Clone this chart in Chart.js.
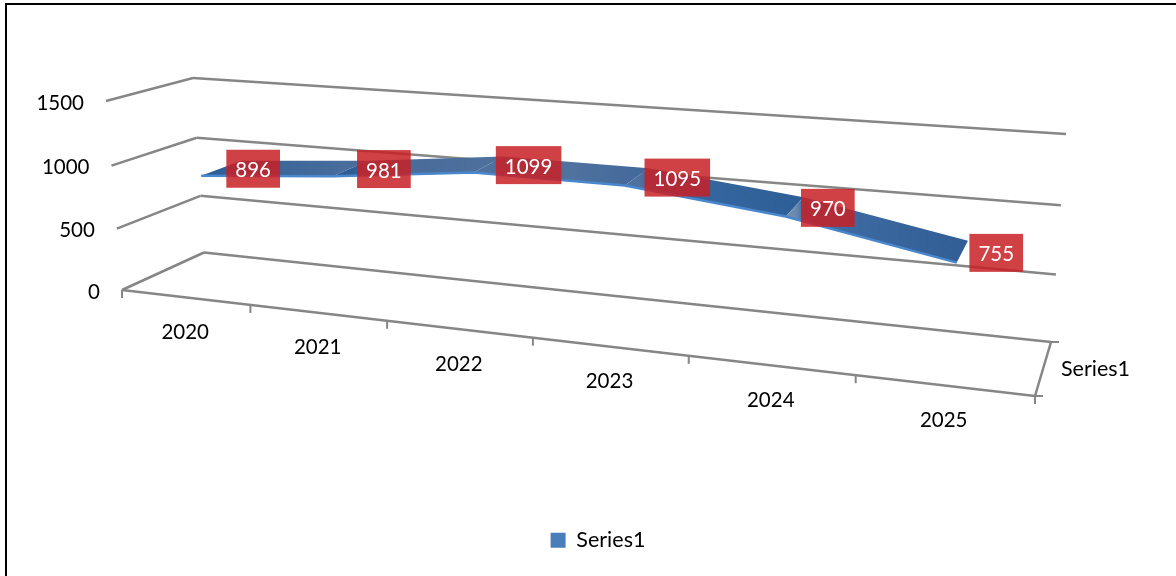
<!DOCTYPE html>
<html>
<head>
<meta charset="utf-8">
<title>Series1</title>
<script src="https://cdn.jsdelivr.net/npm/chart.js@4"></script>
<style>
  html, body { margin: 0; padding: 0; background: #fff; overflow: hidden; }
  #frame { position: absolute; left: 5px; top: 3px; right: 0; bottom: 0; border-left: 2px solid #000; border-top: 2px solid #000; }
  #grafico { position: absolute; left: 0; top: 0; }
</style>
</head>
<body>
<div id="frame"></div>
<canvas id="grafico" width="1176" height="576"></canvas>
<script>
var categorias = ['2020', '2021', '2022', '2023', '2024', '2025'];
var valores = [896, 981, 1099, 1095, 970, 755];
var ticksY = [0, 500, 1000, 1500];
var nomeSerie = 'Series1';

// how the flat plot area is folded into the 3D box of the picture
var cantos = {
    frenteBaixoEsq: [122, 290], fundoBaixoEsq: [204, 252.5], frenteBaixoDir: [1035, 396], fundoBaixoDir: [1051, 342],
    frenteAltoEsq: [106, 101], fundoAltoEsq: [193, 78], frenteAltoDir: [1051, 170], fundoAltoDir: [1066, 134]
};
var perspectiva = 1.222, perspectivaV = 1.04;
var faixaFrente = 0.30, faixaFundo = 0.80;
var deslocaRotulo = [36, 37, 43, 43, 35, 35];

// shade of each ribbon piece: [position along the piece, colour]
var tonsFaixa = [
    [[0, '#2c5c96'], [0.45, '#3a6498'], [1, '#4a6e9c']],
    [[0, '#2b5b95'], [0.14, '#2f5e96'], [0.2, '#47699a'], [1, '#4d709c']],
    [[0, '#4d709c'], [0.6, '#4f729e'], [1, '#44699b']],
    [[0, '#4f729e'], [0.1, '#4c70a0'], [0.16, '#3a6aa3'], [1, '#2f5f97']],
    [[0, '#7290b2'], [0.06, '#6a89ad'], [0.1, '#406ea5'], [1, '#315f95']]
];

var corLinha = '#868686';
var fonte = '20.5px Lato';
var fonteSerie = '21.5px Lato';

function mistura(a, b, k) {
    return [a[0] + (b[0] - a[0]) * k, a[1] + (b[1] - a[1]) * k];
}

// t: along the categories, v: along the values, w: depth, all 0..1
function projeta(t, v, w) {
    var tp = t / (t + perspectiva * (1 - t));
    var vp = v / (v + perspectivaV * (1 - v));
    var c = cantos;
    var baixo = mistura(mistura(c.frenteBaixoEsq, c.frenteBaixoDir, tp), mistura(c.fundoBaixoEsq, c.fundoBaixoDir, tp), w);
    var alto = mistura(mistura(c.frenteAltoEsq, c.frenteAltoDir, tp), mistura(c.fundoAltoEsq, c.fundoAltoDir, tp), w);
    return mistura(baixo, alto, vp);
}

function fracaoX(chart, indice) {
    var s = chart.scales.x;
    return (s.getPixelForValue(indice) - s.left) / s.width;
}
function fracaoY(chart, valor) {
    var s = chart.scales.y;
    return (s.bottom - s.getPixelForValue(valor)) / s.height;
}

function linha(ctx, a, b) {
    ctx.beginPath();
    ctx.moveTo(a[0], a[1]);
    ctx.lineTo(b[0], b[1]);
    ctx.stroke();
}

var caixa3d = {
    id: 'caixa3d',
    // fold the points that the line controller placed
    afterDatasetsUpdate: function (chart) {
        chart.data.datasets.forEach(function (ds, i) {
            chart.getDatasetMeta(i).data.forEach(function (pt, j) {
                var p = projeta(fracaoX(chart, j), fracaoY(chart, ds.data[j]), ds.profundidade);
                pt.x = p[0];
                pt.y = p[1];
            });
        });
    },
    beforeDatasetsDraw: function (chart) {
        var ctx = chart.ctx;
        ctx.save();
        ctx.strokeStyle = corLinha;
        ctx.lineWidth = 2.5;
        ctx.lineCap = 'butt';

        // walls
        ticksY.forEach(function (valor) {
            var v = fracaoY(chart, valor);
            linha(ctx, projeta(0, v, 0), projeta(0, v, 1));
            linha(ctx, projeta(0, v, 1), projeta(1, v, 1));
        });

        // floor front and right edges, with their ticks
        linha(ctx, projeta(0, 0, 0), projeta(1, 0, 0));
        linha(ctx, projeta(1, 0, 0), projeta(1, 0, 1));
        ctx.lineWidth = 2;
        for (var i = 0; i <= categorias.length; i++) {
            var p = projeta(fracaoX(chart, i - 0.5), 0, 0);
            linha(ctx, p, [p[0], p[1] + 8]);
        }
        [0, 1].forEach(function (w) {
            var q = projeta(1, 0, w);
            linha(ctx, q, [q[0] + 8, q[1]]);
        });

        // ribbon between the two edge lines
        var frente = chart.getDatasetMeta(0).data;
        var fundo = chart.getDatasetMeta(1).data;
        for (var k = 0; k < frente.length - 1; k++) {
            var g = ctx.createLinearGradient(frente[k].x, 0, frente[k + 1].x + (fundo[k + 1].x - frente[k + 1].x) / 2, 0);
            tonsFaixa[k].forEach(function (s) { g.addColorStop(s[0], s[1]); });
            ctx.fillStyle = g;
            ctx.beginPath();
            ctx.moveTo(frente[k].x, frente[k].y);
            ctx.lineTo(fundo[k].x, fundo[k].y);
            ctx.lineTo(fundo[k + 1].x, fundo[k + 1].y);
            ctx.lineTo(frente[k + 1].x, frente[k + 1].y);
            ctx.closePath();
            ctx.fill();
        }
        ctx.restore();
    },
    afterDatasetsDraw: function (chart) {
        var ctx = chart.ctx;
        ctx.save();
        ctx.font = fonte;
        ctx.textBaseline = 'middle';
        ctx.fillStyle = '#000';

        // value axis
        ctx.textAlign = 'right';
        ticksY.forEach(function (valor) {
            var p = projeta(0, fracaoY(chart, valor), 0);
            ctx.fillText(String(valor), p[0] - 22, p[1] + 2);
        });

        // category axis
        ctx.textAlign = 'center';
        categorias.forEach(function (nome, i) {
            var p = projeta(fracaoX(chart, i), 0, 0);
            ctx.fillText(nome, p[0], p[1] + 35);
        });

        // depth axis
        ctx.textAlign = 'left';
        ctx.font = fonteSerie;
        var d = projeta(1, 0, 0.5);
        ctx.fillText(nomeSerie, d[0] + 18, d[1]);
        ctx.font = fonte;

        // value labels
        ctx.textAlign = 'center';
        valores.forEach(function (valor, i) {
            var p = projeta(fracaoX(chart, i), fracaoY(chart, valor), 0.5);
            var cx = p[0] + deslocaRotulo[i], cy = p[1] - 1;
            var largura = ctx.measureText(String(valor)).width + 18;
            ctx.fillStyle = 'rgba(200, 32, 36, 0.85)';
            ctx.fillRect(cx - largura / 2, cy - 19, largura, 38);
            ctx.fillStyle = '#fff';
            ctx.fillText(String(valor), cx, cy + 2);
        });
        ctx.restore();
    }
};

new Chart(document.getElementById('grafico').getContext('2d'), {
    type: 'line',
    data: {
        labels: categorias,
        datasets: [
            { label: nomeSerie, data: valores, profundidade: faixaFrente, borderColor: '#4a86cc', borderWidth: 2.5, pointRadius: 0, tension: 0, fill: false, clip: false },
            { label: nomeSerie + ' fundo', data: valores, profundidade: faixaFundo, borderColor: 'rgba(0, 0, 0, 0)', borderWidth: 0, pointRadius: 0, tension: 0, fill: false, clip: false }
        ]
    },
    plugins: [caixa3d],
    options: {
        responsive: false,
        animation: false,
        layout: { padding: { left: 20, bottom: 15 } },
        scales: {
            x: { type: 'category', offset: true, display: false },
            y: { type: 'linear', min: ticksY[0], max: ticksY[ticksY.length - 1], display: false }
        },
        plugins: {
            tooltip: { enabled: false },
            legend: {
                position: 'bottom',
                labels: {
                    font: { family: 'Lato', size: 21.5 },
                    color: '#000',
                    boxWidth: 15,
                    boxHeight: 15,
                    padding: 26,
                    generateLabels: function () {
                        return [{ text: nomeSerie, fillStyle: '#4a7ebb', strokeStyle: '#4a7ebb', lineWidth: 0, datasetIndex: 0 }];
                    }
                }
            }
        }
    }
});
</script>
</body>
</html>
